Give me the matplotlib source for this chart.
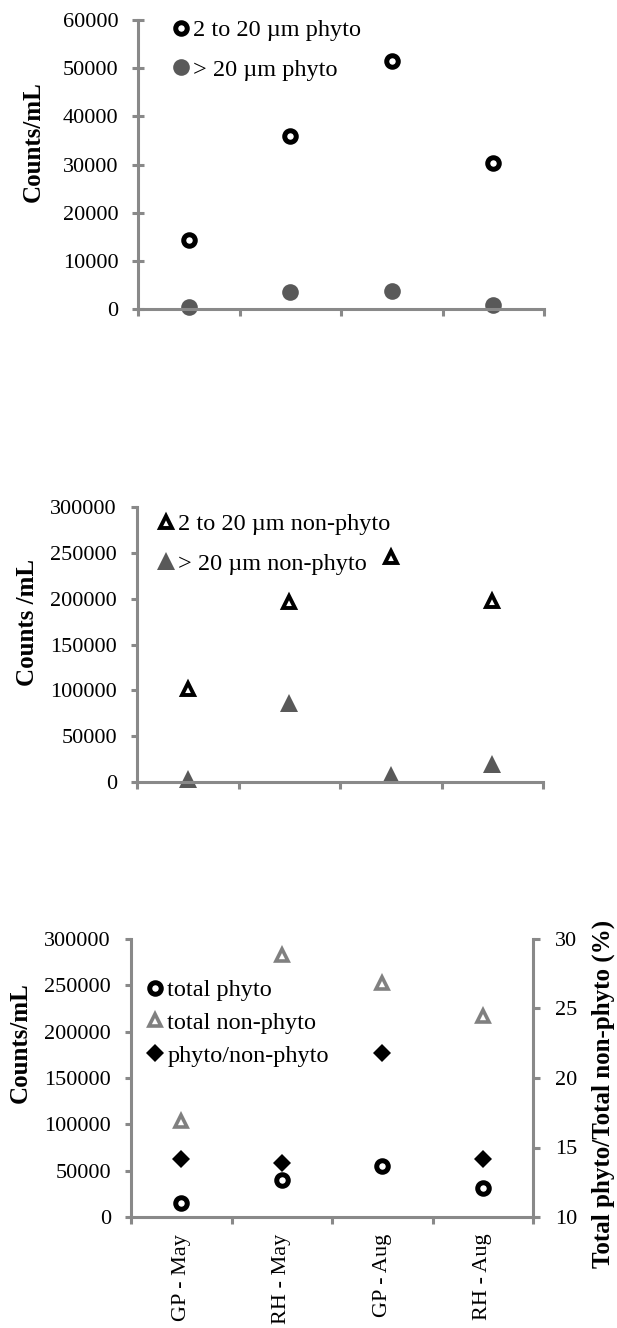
import numpy as np
import matplotlib
matplotlib.use("Agg")
import matplotlib.pyplot as plt
from matplotlib.lines import Line2D

plt.rcParams['font.family'] = ['Liberation Serif', 'DejaVu Serif']

# data
sites = ["GP - May", "RH - May", "GP - Aug", "RH - Aug"]
phyto_2_20 = [14300, 36000, 51500, 30300]
phyto_gt20 = [400, 3500, 3800, 800]
nonphyto_2_20 = [101000, 196000, 245000, 198000]
nonphyto_gt20 = [3500, 86000, 7500, 20000]
total_phyto = [14700, 39500, 55300, 31100]
total_nonphyto = [104000, 283000, 252000, 217000]
ratio_pct = [14.2, 13.9, 21.8, 14.2]

AX_COL = "#898989"
DARK = "#595959"
FS_TICK = 16
FS_LEG = 17.5
FS_LAB = 18
W, H = 617, 1328

x = np.arange(1, len(sites) + 1)

fig = plt.figure(figsize=(W / 100, H / 100), dpi=100)


def px_axes(left, right, top, bottom):
    return fig.add_axes([left / W, 1 - bottom / H, (right - left) / W, (bottom - top) / H])


def style(ax, ymax, ystep, ydir="out", ylen=4.5, ypad=10):
    ax.set_xlim(0.5, len(sites) + 0.5)
    ax.set_ylim(0, ymax)
    ax.set_yticks(np.arange(0, ymax + 1, ystep))
    ax.set_xticks(np.arange(0.5, len(sites) + 1, 1))
    ax.set_xticklabels([])
    for s in ["top", "right"]:
        ax.spines[s].set_visible(False)
    for s in ["left", "bottom"]:
        ax.spines[s].set_color(AX_COL)
        ax.spines[s].set_linewidth(2.2)
    ax.tick_params(axis="y", direction=ydir, length=ylen, width=2.2, color=AX_COL,
                   labelsize=FS_TICK, pad=ypad)
    ax.tick_params(axis="x", direction="out", length=5, width=2.2, color=AX_COL)


def legend(ax, handles, labels, xpx, ypx, spacing):
    ax.legend(handles, labels, loc="upper left", bbox_to_anchor=(xpx / W, 1 - ypx / H),
              bbox_transform=fig.transFigure, frameon=False, borderpad=0, borderaxespad=0,
              handlelength=0.6, handletextpad=0.2, labelspacing=spacing, fontsize=FS_LEG)


open_circ = dict(ls="none", marker="o", ms=8.3, mew=3.6, mfc="white", mec="black")
fill_circ = dict(ls="none", marker="o", ms=12, mew=0, mfc=DARK, mec=DARK)
open_tri = dict(ls="none", marker="^", ms=8.8, mew=2.8, mfc="white", mec="black")
fill_tri = dict(ls="none", marker="^", ms=12.5, mew=0, mfc=DARK, mec=DARK)
gray_tri = dict(ls="none", marker="^", ms=8.8, mew=2.6, mfc="white", mec="#808080")
diamond = dict(ls="none", marker="D", ms=9.5, mew=0, mfc="black", mec="black")

# panel 1
ax1 = px_axes(138, 544, 20, 309)
style(ax1, 60000, 10000, ydir="inout", ylen=9, ypad=9.5)
ax1.plot(x, phyto_2_20, clip_on=False, **open_circ)
ax1.plot(x, phyto_gt20, clip_on=False, **fill_circ)
legend(ax1, [Line2D([], [], **open_circ), Line2D([], [], **fill_circ)],
       ["2 to 20 µm phyto", "> 20 µm phyto"], 174, 19, 0.72)
fig.text(33 / W, 1 - 142 / H, "Counts/mL", rotation=90, ha="center", va="center",
         fontsize=FS_LAB, fontweight="bold")

# panel 2
ax2 = px_axes(137, 543, 507, 782)
style(ax2, 300000, 50000)
ax2.plot(x, nonphyto_2_20, clip_on=False, **open_tri)
ax2.plot(x, nonphyto_gt20, clip_on=False, **fill_tri)
legend(ax2, [Line2D([], [], **open_tri), Line2D([], [], **fill_tri)],
       ["2 to 20 µm non-phyto", "> 20 µm non-phyto"], 159, 513, 0.72)
fig.text(28 / W, 1 - 623 / H, "Counts /mL", rotation=90, ha="center", va="center",
         fontsize=FS_LAB, fontweight="bold")

# panel 3
ax3 = px_axes(131, 533, 939, 1217)
style(ax3, 300000, 50000)
ax3.plot(x, total_phyto, clip_on=False, **open_circ)
ax3.plot(x, total_nonphyto, clip_on=False, **gray_tri)
ax3r = ax3.twinx()
ax3r.set_ylim(10, 30)
ax3r.set_yticks([10, 15, 20, 25, 30])
for s in ["top", "left", "bottom"]:
    ax3r.spines[s].set_visible(False)
ax3r.spines["right"].set_color(AX_COL)
ax3r.spines["right"].set_linewidth(2.2)
ax3r.tick_params(axis="y", direction="out", length=5, width=2.2, color=AX_COL,
                 labelsize=FS_TICK, pad=11)
ax3r.plot(x, ratio_pct, clip_on=False, **diamond)
ax3.set_xticks(x, minor=True)
ax3.set_xticklabels(sites, minor=True, rotation=90, fontsize=FS_TICK, va="top")
ax3.tick_params(axis="x", which="minor", length=0, pad=12)
legend(ax3r, [Line2D([], [], **open_circ), Line2D([], [], **gray_tri), Line2D([], [], **diamond)],
       ["total phyto", "total non-phyto", "phyto/non-phyto"], 148, 979, 0.45)
fig.text(20 / W, 1 - 1043 / H, "Counts/mL", rotation=90, ha="center", va="center",
         fontsize=FS_LAB, fontweight="bold")
fig.text(603 / W, 1 - 1094 / H, "Total phyto/Total non-phyto (%)", rotation=90,
         ha="center", va="center", fontsize=FS_LAB, fontweight="bold")

fig.savefig("out.png", dpi=100)
